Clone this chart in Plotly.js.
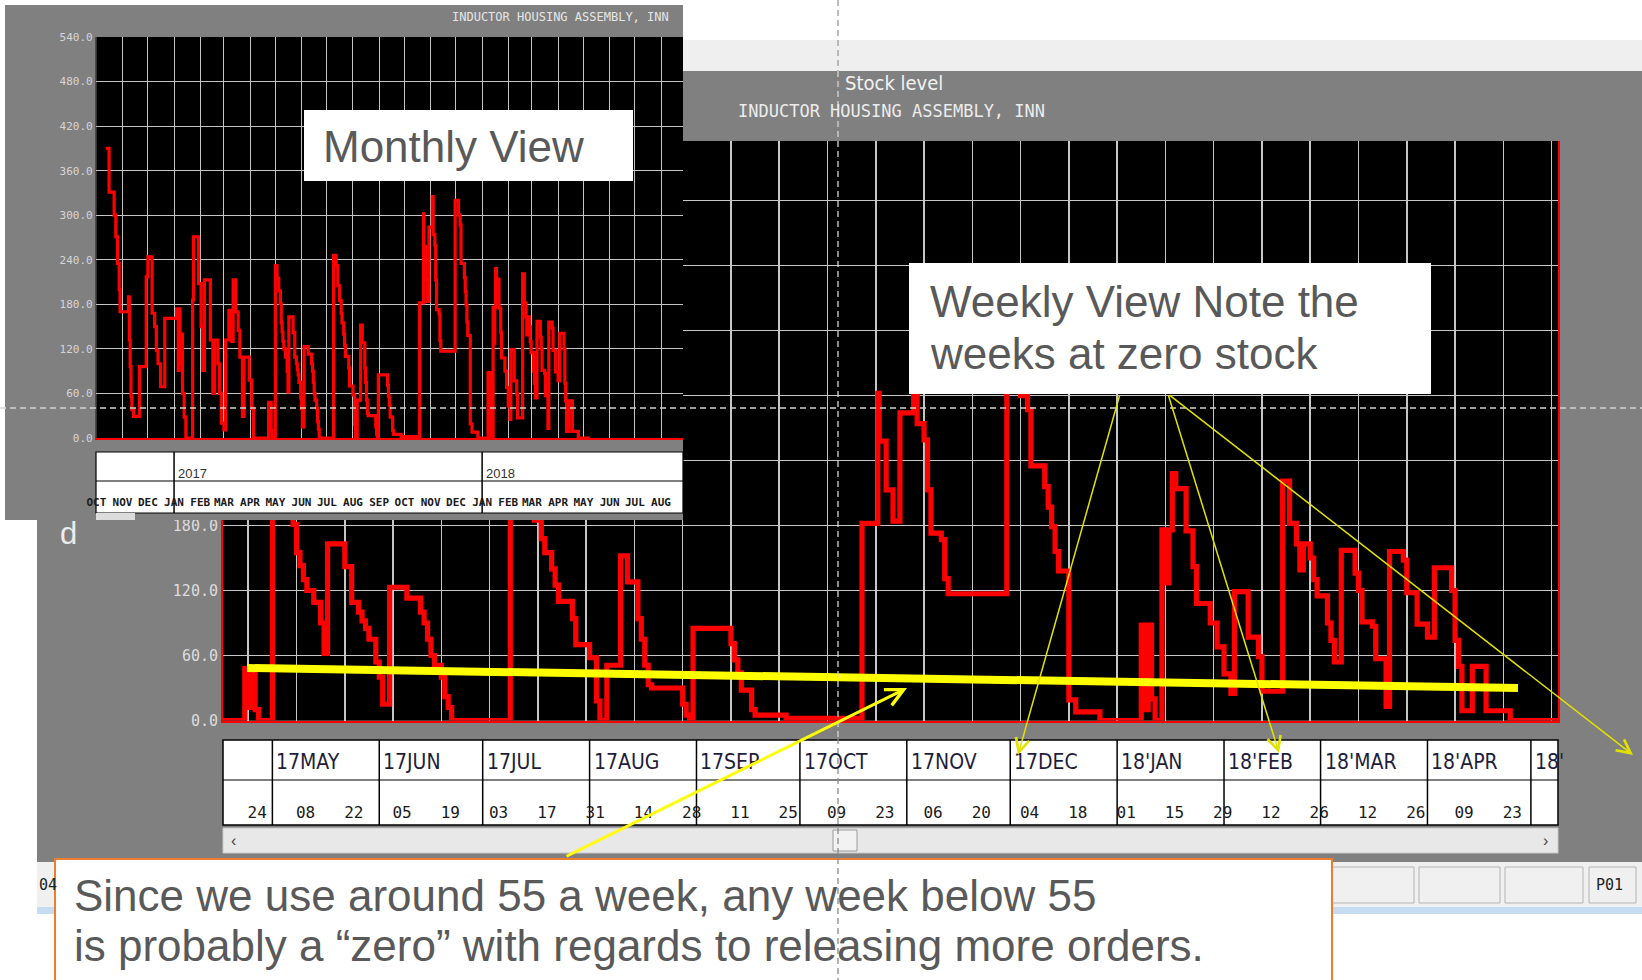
<!DOCTYPE html>
<html>
<head>
<meta charset="utf-8">
<script src="https://cdn.plot.ly/plotly-3.0.1.min.js"></script>
<style>
html,body{margin:0;padding:0;background:#ffffff;}
#chart{width:1642px;height:980px;}
</style>
</head>
<body>
<div id="chart"></div>
<script>
// ---------------- DATA (stock level, step series) ----------------
const stockDates = [
'2016-10-12','2016-10-16','2016-10-22','2016-10-24','2016-10-26','2016-10-28','2016-10-29',
'2016-11-08','2016-11-09','2016-11-10','2016-11-11','2016-11-12','2016-11-14','2016-11-21','2016-11-29',
'2016-12-01','2016-12-06','2016-12-09','2016-12-11','2016-12-13','2016-12-16','2016-12-21',
'2017-01-04','2017-01-06','2017-01-07','2017-01-08','2017-01-09','2017-01-11','2017-01-13','2017-01-15','2017-01-23','2017-01-24','2017-01-30',
'2017-02-02','2017-02-04','2017-02-06','2017-02-13','2017-02-16','2017-02-18','2017-02-22','2017-02-24','2017-02-26',
'2017-03-01','2017-03-03','2017-03-07','2017-03-10','2017-03-12','2017-03-15','2017-03-18','2017-03-20','2017-03-23','2017-03-25','2017-03-31',
'2017-04-03','2017-04-05','2017-04-23','2017-04-24','2017-04-25','2017-04-26','2017-04-27',
'2017-05-01','2017-05-03','2017-05-05','2017-05-07','2017-05-08','2017-05-09','2017-05-10','2017-05-11','2017-05-13','2017-05-15','2017-05-16','2017-05-17','2017-05-22','2017-05-24','2017-05-26','2017-05-27','2017-05-28','2017-05-29','2017-05-31',
'2017-06-01','2017-06-02','2017-06-04','2017-06-09','2017-06-13','2017-06-14','2017-06-15','2017-06-16','2017-06-17','2017-06-19','2017-06-20','2017-06-21','2017-06-22',
'2017-07-09','2017-07-12','2017-07-14','2017-07-16','2017-07-18','2017-07-19','2017-07-21','2017-07-22','2017-07-23','2017-07-27','2017-07-28',
'2017-08-01','2017-08-03','2017-08-04','2017-08-06','2017-08-10','2017-08-12','2017-08-15','2017-08-16','2017-08-17','2017-08-18','2017-08-19','2017-08-28','2017-08-29','2017-08-30','2017-08-31',
'2017-09-11','2017-09-12','2017-09-13','2017-09-14','2017-09-17','2017-09-18','2017-09-27',
'2017-10-19','2017-10-23 14:00','2017-10-24','2017-10-26','2017-10-28','2017-10-30',
'2017-11-03','2017-11-04','2017-11-06','2017-11-07','2017-11-08','2017-11-11','2017-11-12','2017-11-13','2017-11-30',
'2017-12-04','2017-12-06','2017-12-07','2017-12-11','2017-12-12','2017-12-13','2017-12-14','2017-12-15','2017-12-18','2017-12-20','2017-12-27',
'2018-01-08','2018-01-09','2018-01-10','2018-01-11','2018-01-12','2018-01-14','2018-01-15','2018-01-16','2018-01-17','2018-01-18','2018-01-21','2018-01-23','2018-01-24','2018-01-28','2018-01-30',
'2018-02-01','2018-02-03','2018-02-04','2018-02-08','2018-02-11','2018-02-12','2018-02-18','2018-02-20','2018-02-22','2018-02-23','2018-02-24','2018-02-26','2018-02-27','2018-02-28',
'2018-03-03','2018-03-04','2018-03-05','2018-03-07','2018-03-11','2018-03-12','2018-03-13','2018-03-16','2018-03-17','2018-03-20','2018-03-21','2018-03-25','2018-03-26','2018-03-29',
'2018-04-01','2018-04-03','2018-04-08','2018-04-09','2018-04-10','2018-04-11','2018-04-14','2018-04-18','2018-04-25','2018-05-09'
];
const stockLevels = [
390,331,300,271,235,200,170,
190,132,96,56,38,29,96,217,
244,168,150,118,100,69,161,
174,91,174,100,140,60,28,0,186,271,208,
150,91,213,132,60,132,100,60,20,
11,132,172,130,213,170,145,109,29,109,78,
40,0,48,12,48,10,0,
232,215,198,181,155,143,130,120,109,90,62,163,142,109,100,92,85,75,54,
40,15,123,113,100,90,75,60,51,40,22,12,0,
246,232,205,185,168,155,140,125,110,94,70,
58,18,0,51,152,128,94,75,51,33,30,15,5,0,85,
71,56,44,28,10,5,2,
182,302,258,213,184,284,
325,274,259,213,173,167,131,117,320,
300,287,235,216,197,179,156,138,19,8,0,
88,10,88,20,0,176,127,176,228,214,175,142,108,90,68,
43,25,119,77,59,27,221,182,163,139,163,150,130,115,
90,74,54,157,136,120,91,87,57,13,156,148,118,89,
77,141,120,74,50,9,50,9,0,0
];

// Weekly view axis labels
const weeklyTickDates = ['2017-04-24','2017-05-08','2017-05-22','2017-06-05','2017-06-19','2017-07-03','2017-07-17','2017-07-31','2017-08-14','2017-08-28','2017-09-11','2017-09-25','2017-10-09','2017-10-23','2017-11-06','2017-11-20','2017-12-04','2017-12-18','2018-01-01','2018-01-15','2018-01-29','2018-02-12','2018-02-26','2018-03-12','2018-03-26','2018-04-09','2018-04-23','2018-05-07'];
const weeklyTickText = ['24','08','22','05','19','03','17','31','14','28','11','25','09','23','06','20','04','18','01','15','29','12','26','12','26','09','23',' '];
const weeklyMonthStarts = ['2017-05-01','2017-06-01','2017-07-01','2017-08-01','2017-09-01','2017-10-01','2017-11-01','2017-12-01','2018-01-01','2018-02-01','2018-03-01','2018-04-01','2018-05-01'];
const weeklyMonthLabels = ['17MAY','17JUN','17JUL','17AUG','17SEP','17OCT','17NOV','17DEC',"18'JAN","18'FEB","18'MAR","18'APR","18'"];
const weeklyYTicks = [0,60,120,180,240,300,360,420,480];
// labels above 180 sit under the pasted monthly screen in the reference
const weeklyYText = ['0.0','60.0','120.0','180.0','','','','',''];

// Monthly view axis labels
const monthlyTickDates = ['2016-10-01','2016-11-01','2016-12-01','2017-01-01','2017-02-01','2017-03-01','2017-04-01','2017-05-01','2017-06-01','2017-07-01','2017-08-01','2017-09-01','2017-10-01','2017-11-01','2017-12-01','2018-01-01','2018-02-01','2018-03-01','2018-04-01','2018-05-01','2018-06-01','2018-07-01','2018-08-01'];
const monthlyTickText = ['OCT','NOV','DEC','JAN','FEB','MAR','APR','MAY','JUN','JUL','AUG','SEP','OCT','NOV','DEC','JAN','FEB','MAR','APR','MAY','JUN','JUL','AUG'];
const yearStarts = ['2017-01-01','2018-01-01'];
const yearLabels = ['2017','2018'];
const monthlyYTicks = [0,60,120,180,240,300,360,420,480,540];

// ---------------- LAYOUT HELPERS ----------------
const W = 1642, H = 980;
const px = v => v / W;
const py = v => 1 - v / H;

const M_START = '2016-10-01', M_END = '2018-08-27';
const M_L = 96.4, M_R = 683;
const t0 = Date.parse(M_START + 'T00:00:00Z'), t1 = Date.parse(M_END + 'T00:00:00Z');
const msPerPx = (t1 - t0) / (M_R - M_L);
const x2 = p => t0 + (p - M_L) * msPerPx;

const MONO = 'DejaVu Sans Mono, Liberation Mono, monospace';
const NARROW = 'Liberation Sans Narrow, DejaVu Sans Condensed, Liberation Sans, sans-serif';
const SANS = 'Liberation Sans, Arial, sans-serif';

const shapes = [];
function rectPaper(x0, y0, x1, y1, fill, line, layer) {
  shapes.push({type:'rect', xref:'paper', yref:'paper', x0:px(x0), x1:px(x1), y0:py(y1), y1:py(y0),
    fillcolor:fill, line: line || {width:0}, layer: layer || 'below'});
}
function linePaper(x0, y0, x1, y1, color, width, dash, layer) {
  shapes.push({type:'line', xref:'paper', yref:'paper', x0:px(x0), x1:px(x1), y0:py(y0), y1:py(y1),
    line:{color:color, width:width, dash: dash || 'solid'}, layer: layer || 'below'});
}
function rectX2(x0, y0, x1, y1, fill, line) {
  shapes.push({type:'rect', xref:'x2', yref:'y2', x0:x2(x0), x1:x2(x1), y0:y0, y1:y1,
    fillcolor:fill, line: line || {width:0}, layer:'below'});
}

// ----- lower layer (weekly screen) -----
rectPaper(683, 40, 1642, 71, '#efefef');
rectPaper(37, 71, 1642, 862, '#808080');
rectPaper(223, 141, 1558, 720.5, '#000000');
rectPaper(223, 740, 1558, 825, '#ffffff', {color:'#000000', width:1.5});
linePaper(223, 780, 1558, 780, '#000000', 1.2);
weeklyMonthStarts.forEach(d => shapes.push({type:'line', xref:'x', yref:'paper', x0:d, x1:d,
  y0:py(740), y1:py(825), line:{color:'#000000', width:1.5}, layer:'below'}));
rectPaper(223, 828, 1558, 853, '#e8e8e8', {color:'#c8c8c8', width:1});
rectPaper(833, 830, 857, 851, '#f2f2f2', {color:'#9a9a9a', width:1});
rectPaper(37, 862, 1642, 907, '#f0f0f0');
[[1332,1414],[1419,1500],[1505,1583],[1589,1636]].forEach(b =>
  rectPaper(b[0], 867, b[1], 903, 'rgba(0,0,0,0)', {color:'#b4b4b4', width:1}));
rectPaper(37, 907, 1642, 914, '#c5dcf2');

// ----- inset cover (monthly screen), drawn above weekly subplot -----
rectX2(5, 5, 683, 520, '#808080');
rectX2(96.4, 37, 683, 438, '#000000');
rectX2(96, 452, 683, 513, '#ffffff', {color:'#000000', width:1.2});
shapes.push({type:'line', xref:'x2', yref:'y2', x0:x2(96), x1:x2(683), y0:481, y1:481, line:{color:'#000000', width:1}, layer:'below'});
yearStarts.forEach(d => shapes.push({type:'line', xref:'x2', yref:'y2', x0:d, x1:d, y0:452, y1:513,
  line:{color:'#000000', width:1.5}, layer:'below'}));
rectX2(96, 513, 135, 520, '#dcdcdc');

// ----- above layer: callout boxes, yellow line, crosshair -----
rectPaper(304, 110, 633, 181, '#ffffff', null, 'above');
rectPaper(909, 263, 1431, 394, '#ffffff', null, 'above');
rectPaper(55, 859, 1332, 992, '#ffffff', {color:'#ed7d31', width:2}, 'above');
linePaper(247, 668, 1518, 688, '#ffff00', 8, 'solid', 'above');
linePaper(838, 0, 838, 71, '#9a9a9a', 1.3, '6px,4px', 'above');
linePaper(838, 71, 838, 738, '#d4d4d4', 1.3, '6px,4px', 'above');
linePaper(838, 738, 838, 980, '#8a8a8a', 1.3, '6px,4px', 'above');
linePaper(0, 408, 1642, 408, '#d4d4d4', 1.3, '6px,4px', 'above');

// ---------------- ANNOTATIONS ----------------
const annotations = [];
function txt(x, y, text, font, opts) {
  annotations.push(Object.assign({xref:'paper', yref:'paper', x:px(x), y:py(y), text:text, showarrow:false,
    xanchor:'left', yanchor:'middle', font:font}, opts || {}));
}
function arrow(hx, hy, tx, ty, color, width, size) {
  annotations.push({xref:'paper', yref:'paper', x:px(hx), y:py(hy), ax:tx - hx, ay:ty - hy,
    axref:'pixel', ayref:'pixel', text:'', showarrow:true, arrowhead:5, arrowsize:size,
    arrowwidth:width, arrowcolor:color, standoff:0, startstandoff:0});
}

const boxFont = {family:SANS, size:44, color:'#595959'};
txt(321, 146.5, 'Monthly View', boxFont);
txt(928, 301.5, 'Weekly View Note the', boxFont);
txt(928, 353.5, 'weeks at zero stock', boxFont);
txt(72, 895.5, 'Since we use around 55 a week, any week below 55', boxFont);
txt(72, 945.5, 'is probably a \u201czero\u201d with regards to releasing more orders.', boxFont);

txt(843, 83, 'Stock level', {family:NARROW, size:20, color:'#f2f2f2'});
txt(736, 111, 'INDUCTOR HOUSING ASSEMBLY, INN', {family:MONO, size:17, color:'#ececec'});
txt(450, 17, 'INDUCTOR HOUSING ASSEMBLY, INN', {family:MONO, size:12, color:'#e6e6e6'});
txt(58, 533, 'd', {family:SANS, size:31, color:'#ececec'});
txt(1594, 885, 'P01', {family:MONO, size:15, color:'#222222'});
txt(37, 885, '04', {family:MONO, size:15, color:'#222222'});
txt(229, 840, '\u2039', {family:SANS, size:16, color:'#444444'});
txt(1541, 840, '\u203a', {family:SANS, size:16, color:'#444444'});

weeklyMonthStarts.forEach((d, i) => annotations.push({xref:'x', yref:'paper', x:d, y:py(762),
  text:weeklyMonthLabels[i], showarrow:false, xanchor:'left', yanchor:'middle', xshift:2,
  font:{family:NARROW, size:21, color:'#1e1e3c'}}));
yearStarts.forEach((d, i) => annotations.push({xref:'x3', yref:'paper', x:d, y:py(473),
  text:yearLabels[i], showarrow:false, xanchor:'left', yanchor:'middle', xshift:2,
  font:{family:SANS, size:13, color:'#333333'}}));

arrow(907, 688, 565, 857, '#ffff00', 3, 1.15);
arrow(1018, 755, 1120, 394, '#e2e200', 1.5, 1.8);
arrow(1279, 753, 1168, 394, '#e2e200', 1.5, 1.8);
arrow(1633, 755, 1168, 394, '#e2e200', 1.5, 1.8);

// ---------------- TRACES ----------------
const traces = [
  {x:stockDates, y:stockLevels, xaxis:'x', yaxis:'y', type:'scatter', mode:'lines',
   line:{shape:'hv', color:'#ff0000', width:5.2}, hoverinfo:'skip'},
  {x:[t0], y:[-100], xaxis:'x2', yaxis:'y2', type:'scatter', mode:'markers',
   marker:{opacity:0, size:1}, hoverinfo:'skip'},
  {x:stockDates, y:stockLevels, xaxis:'x3', yaxis:'y3', type:'scatter', mode:'lines',
   line:{shape:'hv', color:'#ff0000', width:3.2}, hoverinfo:'skip'}
];

const layout = {
  width:W, height:H,
  margin:{l:0, r:0, t:0, b:0, pad:0},
  paper_bgcolor:'#ffffff',
  plot_bgcolor:'rgba(0,0,0,0)',
  showlegend:false,
  hovermode:false,
  xaxis:{type:'date', domain:[px(223), px(1558)], range:['2017-04-16 16:22','2018-05-08 20:38'],
    anchor:'y', tickmode:'array', tickvals:weeklyTickDates, ticktext:weeklyTickText, tickangle:0,
    showgrid:true, gridcolor:'#c6c6c6', gridwidth:1.6, zeroline:false,
    showline:true, linecolor:'#ff0000', linewidth:2, ticks:'',
    tickfont:{family:MONO, size:16, color:'#1a1a1a'}, ticklabelshift:9, ticklabelstandoff:76,
    fixedrange:true},
  yaxis:{domain:[py(720.5), py(141)], range:[0,535], anchor:'x', tickmode:'array', tickvals:weeklyYTicks,
    ticktext:weeklyYText, showgrid:true, gridcolor:'#c6c6c6', gridwidth:1.6, zeroline:false,
    showline:true, linecolor:'#ff0000', linewidth:2, mirror:true, ticks:'',
    tickfont:{family:MONO, size:15, color:'#dcdcdc'}, fixedrange:true},
  xaxis2:{type:'date', domain:[0,1], range:[x2(0), x2(W)], anchor:'y2', visible:false, fixedrange:true},
  yaxis2:{domain:[0,1], range:[H,0], anchor:'x2', visible:false, fixedrange:true},
  xaxis3:{type:'date', domain:[px(M_L), px(M_R)], range:[M_START, M_END], anchor:'y3',
    tickmode:'array', tickvals:monthlyTickDates, ticktext:monthlyTickText, tickangle:0,
    showgrid:true, gridcolor:'#c4c4c4', gridwidth:1, zeroline:false,
    showline:true, linecolor:'#ff0000', linewidth:1.5, ticks:'',
    tickfont:{family:MONO, size:11, color:'#1a1a1a', weight:'bold'}, ticklabelshift:12.8, ticklabelstandoff:53,
    fixedrange:true},
  yaxis3:{domain:[py(438), py(37)], range:[0,540], anchor:'x3', tickmode:'array', tickvals:monthlyYTicks,
    tickformat:'.1f', showgrid:true, gridcolor:'#c4c4c4', gridwidth:1, zeroline:false,
    showline:true, linecolor:'#ff0000', linewidth:1.5, ticks:'',
    tickfont:{family:MONO, size:11, color:'#d6d6d6'}, fixedrange:true},
  shapes:shapes,
  annotations:annotations
};

Plotly.newPlot('chart', traces, layout, {displayModeBar:false, staticPlot:true});
</script>
</body>
</html>
